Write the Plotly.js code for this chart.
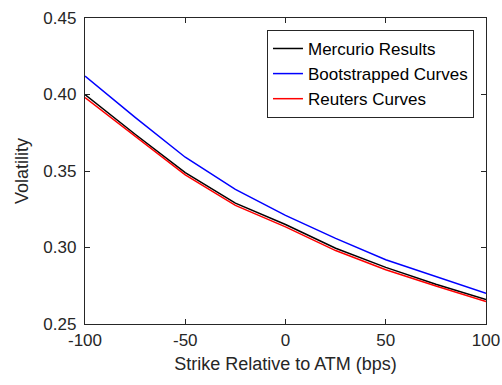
<!DOCTYPE html>
<html>
<head>
<meta charset="utf-8">
<script src="https://cdn.plot.ly/plotly-3.0.1.min.js"></script>
<style>html,body{margin:0;padding:0;background:#fff;}#chart{width:502px;height:385px;}</style>
</head>
<body>
<div id="chart"></div>
<script>
const strikes = [-100, -75, -50, -25, 0, 25, 50, 75, 100];
const mercurio = [0.400, 0.374, 0.349, 0.329, 0.315, 0.2995, 0.287, 0.276, 0.266];
const bootstrapped = [0.412, 0.385, 0.359, 0.338, 0.321, 0.306, 0.292, 0.281, 0.270];
const reuters = [0.398, 0.3725, 0.3475, 0.3275, 0.3135, 0.298, 0.2855, 0.2748, 0.2647];
const seriesNames = ["Mercurio Results", "Bootstrapped Curves", "Reuters Curves"];
const xTicks = [-100, -50, 0, 50, 100];
const yTicks = [0.25, 0.30, 0.35, 0.40, 0.45];

const font = "Liberation Sans, Arial, Helvetica, sans-serif";
const axisColor = "#262626";
const traces = [
  {x: strikes, y: mercurio, name: seriesNames[0], mode: "lines", line: {color: "#000000", width: 1.5}},
  {x: strikes, y: bootstrapped, name: seriesNames[1], mode: "lines", line: {color: "#0000ff", width: 1.5}},
  {x: strikes, y: reuters, name: seriesNames[2], mode: "lines", line: {color: "#ff0000", width: 1.5}}
];
const axisCommon = {
  showgrid: false, zeroline: false, showline: true, mirror: "ticks",
  linecolor: axisColor, linewidth: 1.2, ticks: "inside", ticklen: 5,
  tickcolor: axisColor, tickwidth: 1, tickfont: {family: font, size: 17, color: axisColor}
};
const layout = {
  width: 502, height: 385,
  margin: {l: 85, r: 16, t: 18, b: 61},
  paper_bgcolor: "#ffffff", plot_bgcolor: "#ffffff",
  showlegend: true,
  legend: {
    x: 0.970, y: 0.961, xanchor: "right", yanchor: "top",
    bgcolor: "#ffffff", bordercolor: axisColor, borderwidth: 1,
    font: {family: font, size: 17, color: "#000000"},
    tracegroupgap: 0
  },
  xaxis: Object.assign({}, axisCommon, {
    range: [-100, 100], tickvals: xTicks, ticktext: xTicks.map(String),
    ticklabelstandoff: 0,
    title: {text: "Strike Relative to ATM (bps)", font: {family: font, size: 18, color: axisColor}, standoff: 8}
  }),
  yaxis: Object.assign({}, axisCommon, {
    range: [0.25, 0.45], tickvals: yTicks, ticktext: yTicks.map(v => v.toFixed(2)),
    ticklabelstandoff: 4,
    title: {text: "Volatility", font: {family: font, size: 18, color: axisColor}, standoff: 10}
  })
};
Plotly.newPlot("chart", traces, layout, {staticPlot: true, displayModeBar: false});
</script>
</body>
</html>
